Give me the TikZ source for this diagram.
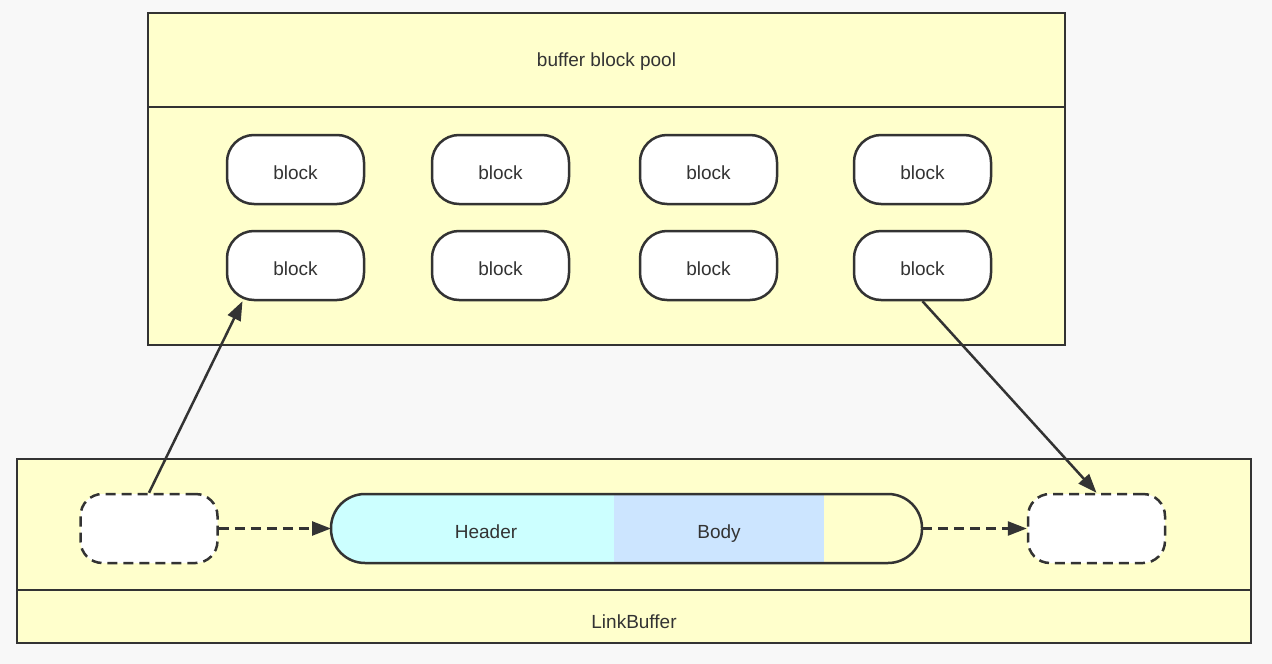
\documentclass[tikz,border=0pt]{standalone}
\usepackage{fontspec}
\setmainfont{Liberation Sans}
\usetikzlibrary{arrows.meta}
\definecolor{bg}{HTML}{F8F8F8}
\definecolor{pale}{HTML}{FFFFCC}
\definecolor{ink}{HTML}{333333}
\definecolor{hdr}{HTML}{CCFFFF}
\definecolor{bdy}{HTML}{CCE5FF}
\tikzset{
  x=1pt,y=-1pt,
  panel/.style={draw=ink,line width=2.5pt,fill=pale},
  blk/.style={draw=ink,line width=2.5pt,fill=white,rounded corners=27pt,minimum width=137pt,minimum height=69pt,inner sep=0pt,font=\fontsize{19}{22}\selectfont,text=ink,text height=19pt,text depth=0pt},
  ghost/.style={blk,rounded corners=22pt,dash pattern=on 10pt off 6pt},
  conn/.style={draw=ink,line width=2.5pt,-{Triangle[length=19pt,width=14pt]}},
  dconn/.style={conn,dash pattern=on 10pt off 6pt},
  lbl/.style={font=\fontsize{19}{22}\selectfont,text=ink,anchor=base,inner sep=0pt}
}
\begin{document}
\begin{tikzpicture}
\fill[bg] (0,0) rectangle (1272,664);
\useasboundingbox (0,0) rectangle (1272,664);
% top pool
\draw[panel] (148,13) rectangle (1065,345);
\draw[ink,line width=2.5pt] (148,107) -- (1065,107);
\node[lbl] (pool) at (606.5,66) {buffer block pool};
% blocks
\foreach \c/\x in {1/295.5,2/500.5,3/708.5,4/922.5}{
  \node[blk] (a\c) at (\x,169.5) {block};
  \node[blk] (b\c) at (\x,265.5) {block};
}
% bottom
\draw[panel] (17,459) rectangle (1251,643);
\draw[ink,line width=2.5pt] (17,590) -- (1251,590);
\node[lbl] (lb) at (634,628) {LinkBuffer};
\node[ghost] (g1) at (149,528.5) {};
\node[ghost] (g2) at (1096.5,528.5) {};
% header/body bar
\begin{scope}
\clip[rounded corners=34pt] (331,494) rectangle (922,563);
\fill[pale] (331,494) rectangle (922,563);
\fill[hdr] (331,494) rectangle (614,563);
\fill[bdy] (614,494) rectangle (824,563);
\end{scope}
\draw[ink,line width=2.5pt,rounded corners=34pt] (331,494) rectangle (922,563);
\coordinate (barL) at (331,528.5);
\coordinate (barR) at (922,528.5);
\node[lbl] (hd) at (486,538) {Header};
\node[lbl] (bd) at (719,538) {Body};
% connectors
\draw[conn] (g1.north) -- (b1.214);
\draw[conn] (b4.south) -- (g2.north);
\draw[dconn] (g1.east) -- (barL);
\draw[dconn] (barR) -- (g2.west);
\end{tikzpicture}
\end{document}
